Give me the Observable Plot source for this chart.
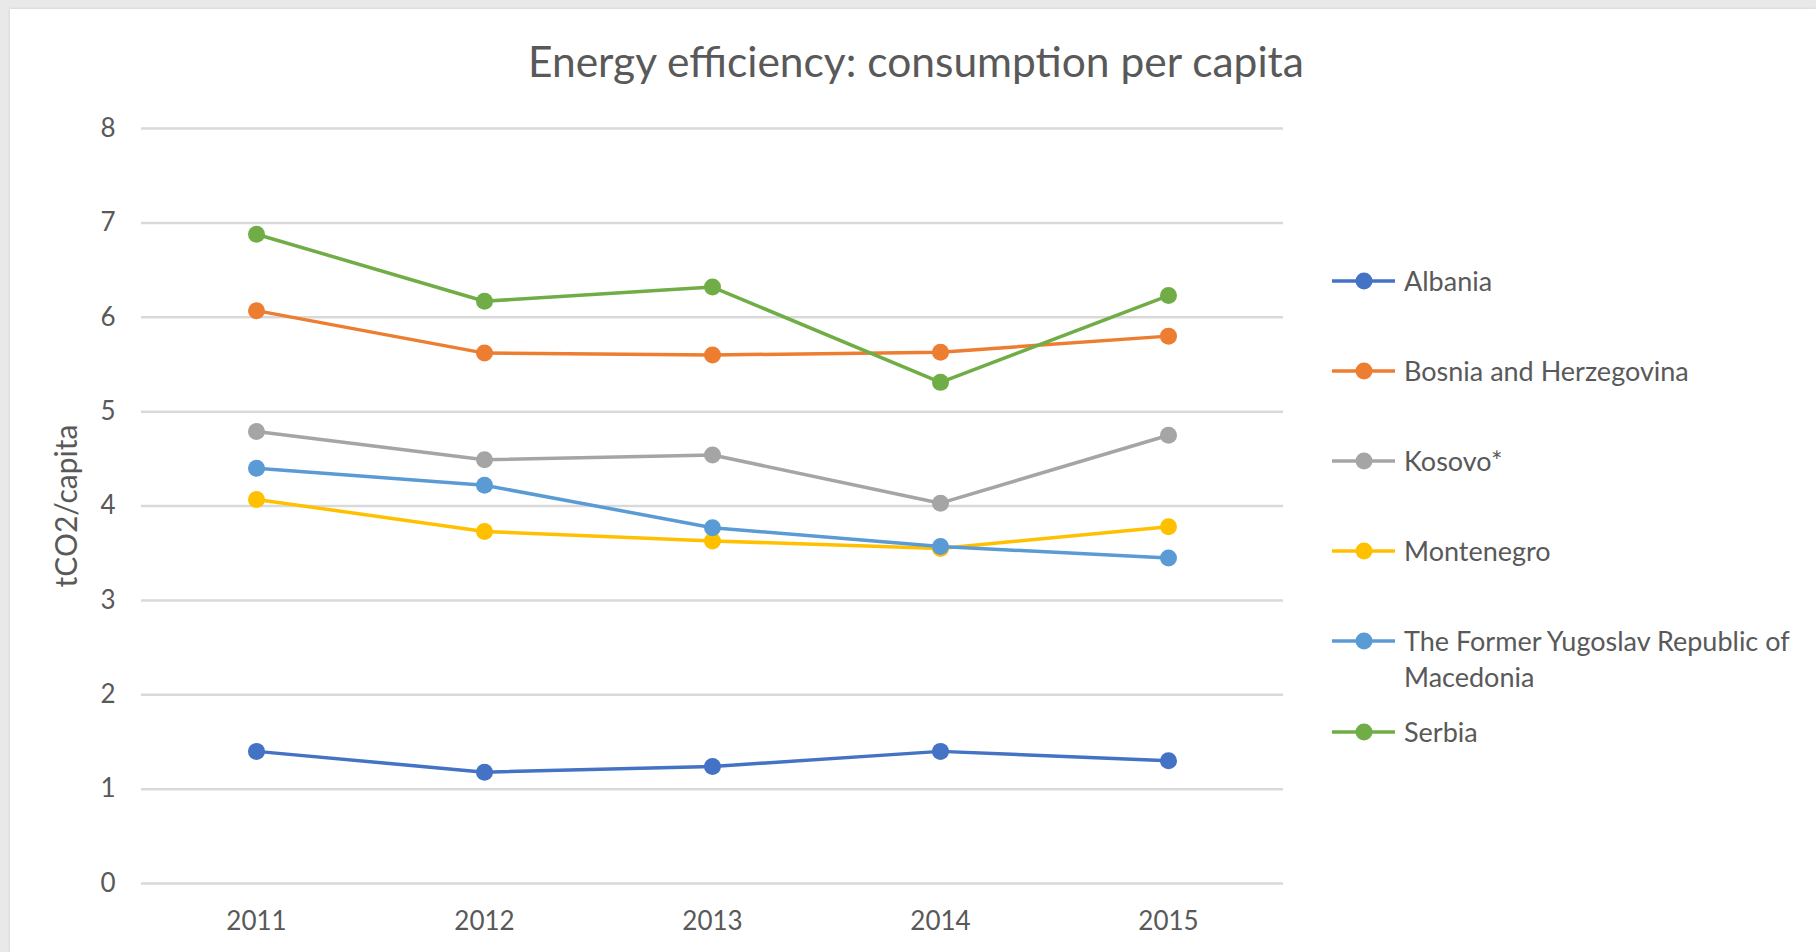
<!DOCTYPE html>
<html>
<head>
<meta charset="utf-8">
<script src="https://cdn.jsdelivr.net/npm/d3@7"></script>
<script src="https://cdn.jsdelivr.net/npm/@observablehq/plot@0.6"></script>
<style>
  html, body { margin: 0; padding: 0; }
  body { width: 1816px; height: 952px; background: #e9e9e9; position: relative; overflow: hidden; font-family: Lato, "Open Sans", sans-serif; }
  #panel { position: absolute; left: 10px; top: 9px; width: 1806px; height: 943px; background: #ffffff; box-shadow: 0 0 3px rgba(0,0,0,0.12); }
  #title { position: absolute; left: 0; width: 1832px; top: 37px; text-align: center; font-size: 42.5px; color: #595959; line-height: 48px; white-space: nowrap; }
  #chart { position: absolute; left: 0; top: 0; }
  .leg { position: absolute; left: 1332px; display: flex; align-items: flex-start; color: #595959; font-size: 27px; line-height: 36px; white-space: nowrap; }
  .leg svg { display: block; margin-top: 8px; }
  .leg span { margin-left: 9px; }
</style>
</head>
<body>
<div id="panel"></div>
<div id="title">Energy efficiency: consumption per capita</div>
<div id="chart"></div>
<div id="legend"></div>
<script>
const years = ["2011", "2012", "2013", "2014", "2015"];
const countries = ["Albania", "Bosnia and Herzegovina", "Kosovo*", "Montenegro", "The Former Yugoslav Republic of Macedonia", "Serbia"];
const legendLabels = [["Albania"], ["Bosnia and Herzegovina"], ["Kosovo*"], ["Montenegro"], ["The Former Yugoslav Republic of", "Macedonia"], ["Serbia"]];
const colors = ["#4472C4", "#ED7D31", "#A5A5A5", "#FFC000", "#5B9BD5", "#70AD47"];

const albania    = [1.40, 1.18, 1.24, 1.40, 1.30];
const bosnia     = [6.07, 5.62, 5.60, 5.63, 5.80];
const kosovo     = [4.79, 4.49, 4.54, 4.03, 4.75];
const montenegro = [4.07, 3.73, 3.63, 3.55, 3.78];
const macedonia  = [4.40, 4.22, 3.77, 3.57, 3.45];
const serbia     = [6.88, 6.17, 6.32, 5.31, 6.23];
const yTicks = [0, 1, 2, 3, 4, 5, 6, 7, 8];

const seriesValues = [albania, bosnia, kosovo, montenegro, macedonia, serbia];
const data = countries.flatMap((c, i) => years.map((y, j) => ({country: c, year: y, value: seriesValues[i][j]})));

const marks = [
  Plot.gridY(yTicks, {stroke: "#d9d9d9", strokeOpacity: 1, strokeWidth: 2.5}),
  Plot.axisY(yTicks, {tickSize: 0, tickPadding: 26, fontSize: 26, tickFormat: d => String(d), label: null, color: "#595959"}),
  Plot.axisY({anchor: "left", ticks: [], label: "tCO2/capita", labelAnchor: "center", labelOffset: 86, labelArrow: "none", fontSize: 30, color: "#595959"}),
  Plot.axisX({tickSize: 0, tickPadding: 28, fontSize: 26, label: null, color: "#595959"})
];
countries.forEach(c => {
  const d = data.filter(r => r.country === c);
  marks.push(Plot.line(d, {x: "year", y: "value", stroke: "country", strokeWidth: 3.5}));
  marks.push(Plot.dot(d, {x: "year", y: "value", fill: "country", r: 8.5, stroke: "none"}));
});

const chart = Plot.plot({
  width: 1816,
  height: 952,
  marginLeft: 141,
  marginRight: 533,
  marginTop: 128,
  marginBottom: 69,
  style: {background: "transparent", fontFamily: "Lato, 'Open Sans', sans-serif", color: "#595959", overflow: "visible", fontSize: "28px"},
  x: {type: "point", domain: years, padding: 0.5},
  y: {domain: [0, 8]},
  color: {domain: countries, range: colors},
  marks
});
document.getElementById("chart").appendChild(chart);

// Legend
const rowTops = [281, 371, 461, 551, 641, 732];
const legend = document.getElementById("legend");
countries.forEach((c, i) => {
  const row = document.createElement("div");
  row.className = "leg";
  row.style.top = (rowTops[i] - 18) + "px";
  const col = colors[i];
  row.innerHTML = `<svg width="63" height="20" viewBox="0 0 63 20"><line x1="0" y1="10" x2="63" y2="10" stroke="${col}" stroke-width="3.5"/><circle cx="32" cy="10" r="8.5" fill="${col}"/></svg><span>${legendLabels[i].join("<br>")}</span>`;
  legend.appendChild(row);
});
</script>
</body>
</html>
